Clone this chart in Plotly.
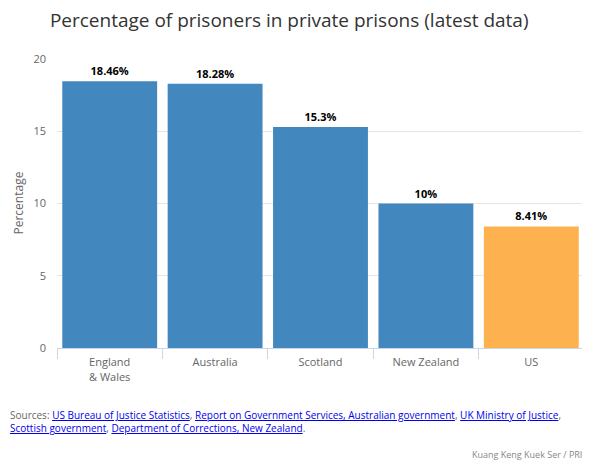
import plotly.graph_objects as go

categories = ["England<br>& Wales", "Australia", "Scotland", "New Zealand", "US"]
values = [18.46, 18.28, 15.3, 10, 8.41]
labels = ["18.46%", "18.28%", "15.3%", "10%", "8.41%"]
colors = ["#4287bd", "#4287bd", "#4287bd", "#4287bd", "#fdb14f"]
yticks = [0, 5, 10, 15, 20]

FONT = "Open Sans, Lato, sans-serif"

fig = go.Figure()
fig.add_trace(go.Bar(
    x=categories, y=values, marker=dict(color=colors, line=dict(width=0)),
    text=labels, textposition="outside", cliponaxis=False,
    textfont=dict(family=FONT, size=11, color="#000000"),
    texttemplate="<b>%{text}</b>", hoverinfo="skip",
))

link = "<span style='text-decoration:underline;color:#0000ee'>{}</span>"
src = ("Sources: " + link.format("US Bureau of Justice Statistics") + ", "
       + link.format("Report on Government Services, Australian government") + ", "
       + link.format("UK Ministry of Justice") + ",<br>"
       + link.format("Scottish government") + ", "
       + link.format("Department of Corrections, New Zealand") + ".")

fig.update_layout(
    width=582, height=457,
    margin=dict(l=49, r=6, t=51, b=117),
    paper_bgcolor="white", plot_bgcolor="white",
    showlegend=False, bargap=0.1,
    font=dict(family=FONT, color="#666666"),
    title=dict(text="Percentage of prisoners in private prisons (latest data)",
               x=0.072, xanchor="left", y=0.972, yanchor="middle",
               font=dict(family=FONT, size=19, color="#333333")),
    xaxis=dict(showgrid=False, showline=True, linecolor="#ccd6eb", linewidth=1,
               ticks="outside", tickson="boundaries", ticklen=10, tickcolor="#ccd6eb",
               ticklabelstandoff=4, automargin=False,
               tickfont=dict(size=11, color="#666666")),
    yaxis=dict(range=[0, 20], tickvals=yticks, showgrid=True, gridcolor="#e6e6e6",
               zeroline=False, showline=False, ticks="", ticklabelstandoff=10,
               automargin=False,
               tickfont=dict(size=11, color="#666666")),
    annotations=[
        dict(text="Percentage", xref="paper", yref="paper", x=-0.074, y=0.5,
             xanchor="center", yanchor="middle", textangle=-90, showarrow=False,
             font=dict(family=FONT, size=12, color="#666666")),
        dict(text=src, xref="paper", yref="paper", x=-0.093, y=-0.2, xanchor="left", yanchor="top",
             showarrow=False, align="left", font=dict(family=FONT, size=10, color="#666666")),
        dict(text="Kuang Keng Kuek Ser / PRI", xref="paper", yref="paper", x=1.0, y=-0.34,
             xanchor="right", yanchor="top", showarrow=False,
             font=dict(family=FONT, size=9, color="#888888")),
    ],
)

fig.write_html("out.html")
